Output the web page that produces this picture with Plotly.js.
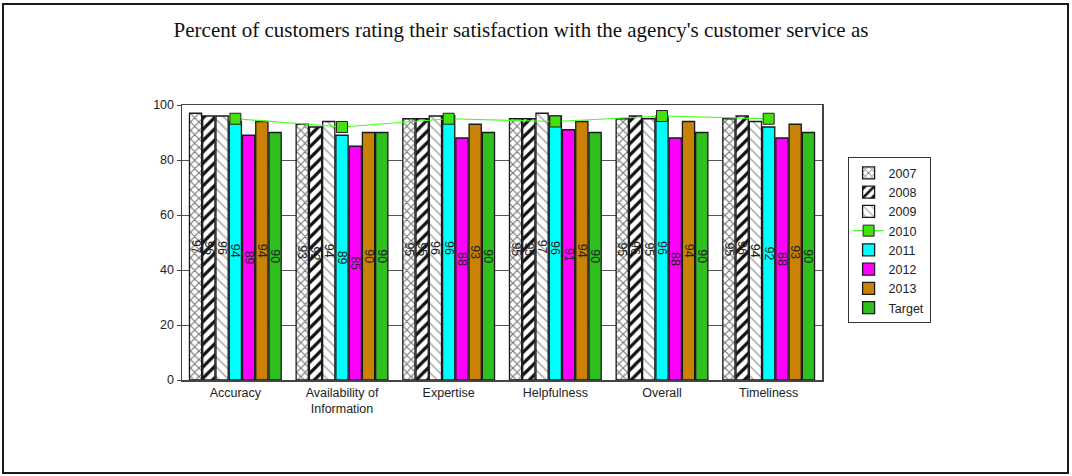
<!DOCTYPE html>
<html>
<head>
<meta charset="utf-8">
<script src="https://cdn.plot.ly/plotly-3.0.1.min.js"></script>
<style>
html,body{margin:0;padding:0;background:#fff;}
#chart{width:1072px;height:476px;position:absolute;left:0;top:0;}
#frame{position:absolute;left:2px;top:3px;width:1063px;height:467px;border:2px solid #1a1a1a;pointer-events:none;}
</style>
</head>
<body>
<div id="chart"></div>
<div id="frame"></div>
<script>
const categories = ["Accuracy", "Availability of<br>Information", "Expertise", "Helpfulness", "Overall", "Timeliness"];
const y2007 = [97, 93, 95, 95, 95, 95];
const y2008 = [96, 92, 95, 95, 96, 96];
const y2009 = [96, 94, 96, 97, 95, 94];
const y2010 = [95, 92, 95, 94, 96, 95];
const y2011 = [94, 89, 96, 96, 96, 92];
const y2012 = [89, 85, 88, 91, 88, 88];
const y2013 = [94, 90, 93, 94, 94, 93];
const yTarget = [90, 90, 90, 90, 90, 90];
const yTicks = [0, 20, 40, 60, 80, 100];

const textFont = {family: "Arial, Liberation Sans, sans-serif", size: 12.5, color: "#222"};
function barTrace(name, y, color, pattern) {
  const t = {
    type: "bar", name: name, x: categories, y: y,
    text: y.map(String), textposition: "inside", insidetextanchor: "middle",
    textangle: 90, textfont: textFont, cliponaxis: false,
    marker: {color: color, line: {color: "#1a1a1a", width: 1.3}},
    hoverinfo: "x+y+name"
  };
  if (pattern) t.marker.pattern = pattern;
  return t;
}

const traces = [
  barTrace("2007", y2007, "#ffffff", {shape: "x", fgcolor: "#777777", bgcolor: "#ffffff", size: 6, solidity: 0.35}),
  barTrace("2008", y2008, "#ffffff", {shape: "/", fgcolor: "#111111", bgcolor: "#ffffff", size: 8, solidity: 0.4}),
  barTrace("2009", y2009, "#ffffff", {shape: "\\", fgcolor: "#999999", bgcolor: "#ffffff", size: 7, solidity: 0.18}),
  barTrace("2011", y2011, "#00ffff"),
  barTrace("2012", y2012, "#ff00ff"),
  barTrace("2013", y2013, "#c98206"),
  barTrace("Target", yTarget, "#2fbf1f"),
  {
    type: "scatter", mode: "lines+markers", name: "2010", x: categories, y: y2010,
    line: {color: "#44ff22", width: 1.2},
    marker: {symbol: "square", size: 11, color: "#44e010", line: {color: "#222", width: 1}}
  }
];
// legend order: 2007, 2008, 2009, 2010, 2011, 2012, 2013, Target
const ranks = {"2007":1, "2008":2, "2009":3, "2010":4, "2011":5, "2012":6, "2013":7, "Target":8};
traces.forEach(t => t.legendrank = ranks[t.name]);

const layout = {
  width: 1072, height: 476,
  margin: {l: 182, r: 250, t: 105, b: 96},
  paper_bgcolor: "#ffffff", plot_bgcolor: "#ffffff",
  barmode: "group", bargap: 0.13, bargroupgap: 0.08,
  font: {family: "Arial, Liberation Sans, sans-serif", size: 12.5, color: "#222"},
  title: {
    text: "Percent of customers rating their satisfaction with the agency's customer service as",
    font: {family: "Liberation Serif, Times New Roman, serif", size: 21, color: "#111"},
    x: 0.486, xref: "container", xanchor: "center",
    y: 0.937, yref: "container", yanchor: "middle"
  },
  xaxis: {
    type: "category", showline: true, mirror: true, linecolor: "#444", linewidth: 1.5,
    ticks: "", showgrid: false, tickfont: {size: 12.5, color: "#222"}
  },
  yaxis: {
    range: [0, 100], tickvals: yTicks, ticktext: yTicks.map(String),
    showline: true, mirror: true, linecolor: "#444", linewidth: 1.5,
    ticks: "outside", ticklen: 4, tickcolor: "#444",
    showgrid: true, gridcolor: "#555", gridwidth: 1, zeroline: false,
    tickfont: {size: 12.5, color: "#222"}
  },
  legend: {
    x: 1.04, xanchor: "left", y: 0.81, yanchor: "top",
    bordercolor: "#333", borderwidth: 1, bgcolor: "#fff",
    font: {size: 12.5, color: "#222"}, traceorder: "normal",
    itemwidth: 30
  },
  uniformtext: {minsize: 11, mode: "show"},
  showlegend: true
};

Plotly.newPlot("chart", traces, layout, {displayModeBar: false, staticPlot: true});
</script>
</body>
</html>
